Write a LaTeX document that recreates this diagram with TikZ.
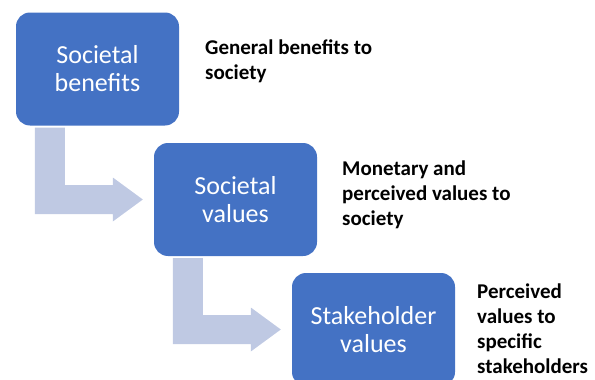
\documentclass[tikz,border=0pt]{standalone}
\usepackage{fontspec}
\setmainfont{Carlito}
\usetikzlibrary{calc}
\definecolor{boxblue}{RGB}{68,114,196}
\definecolor{arrowblue}{RGB}{191,201,227}
\tikzstyle{stage}=[fill=boxblue, rounded corners=14pt, minimum width=163pt, minimum height=113pt, inner sep=0, text=white, align=center, font=\fontsize{26}{28}\selectfont]
% base west sits on the last line of a note
\tikzstyle{note}=[anchor=base west, align=left, inner sep=0, font=\bfseries\fontsize{21}{25}\selectfont]
% bent block arrow from the bottom of one stage to the left side of the next
\newcommand{\bentarrow}[2]{%
  \fill[arrowblue] let \p1=(#1.south west), \p2=(#2.west) in
    (\x1+19pt,\y1-2pt) -- (\x1+49pt,\y1-2pt) -- (\x1+49pt,\y2+14.5pt)
    -- (\x2-41pt,\y2+14.5pt) -- (\x2-41pt,\y2+22pt) -- (\x2-11pt,\y2)
    -- (\x2-41pt,\y2-22pt) -- (\x2-41pt,\y2-14.5pt)
    -- (\x1+19pt,\y2-14.5pt) -- cycle;}

\begin{document}
\begin{tikzpicture}[x=1pt, y=-1pt]
      \useasboundingbox (0,0) rectangle (595,380);
      \clip (0,0) rectangle (595,380);

      \node[stage] (benefits) at (97.5,69) {Societal\\benefits};
      \node[stage] (societal) at (235.5,199.5) {Societal\\values};
      \node[stage] (stakeholder) at (373.5,329.5) {Stakeholder\\values};

      \bentarrow{benefits}{societal}
      \bentarrow{societal}{stakeholder}

      \node[note] (benefits_note) at (205,79) {General benefits to\\society};
      \node[note] (societal_note) at (342,225) {Monetary and\\perceived values to\\society};
      \node[note] (stakeholder_note) at (477,373) {Perceived\\values to\\specific\\stakeholders};
\end{tikzpicture}
\end{document}
